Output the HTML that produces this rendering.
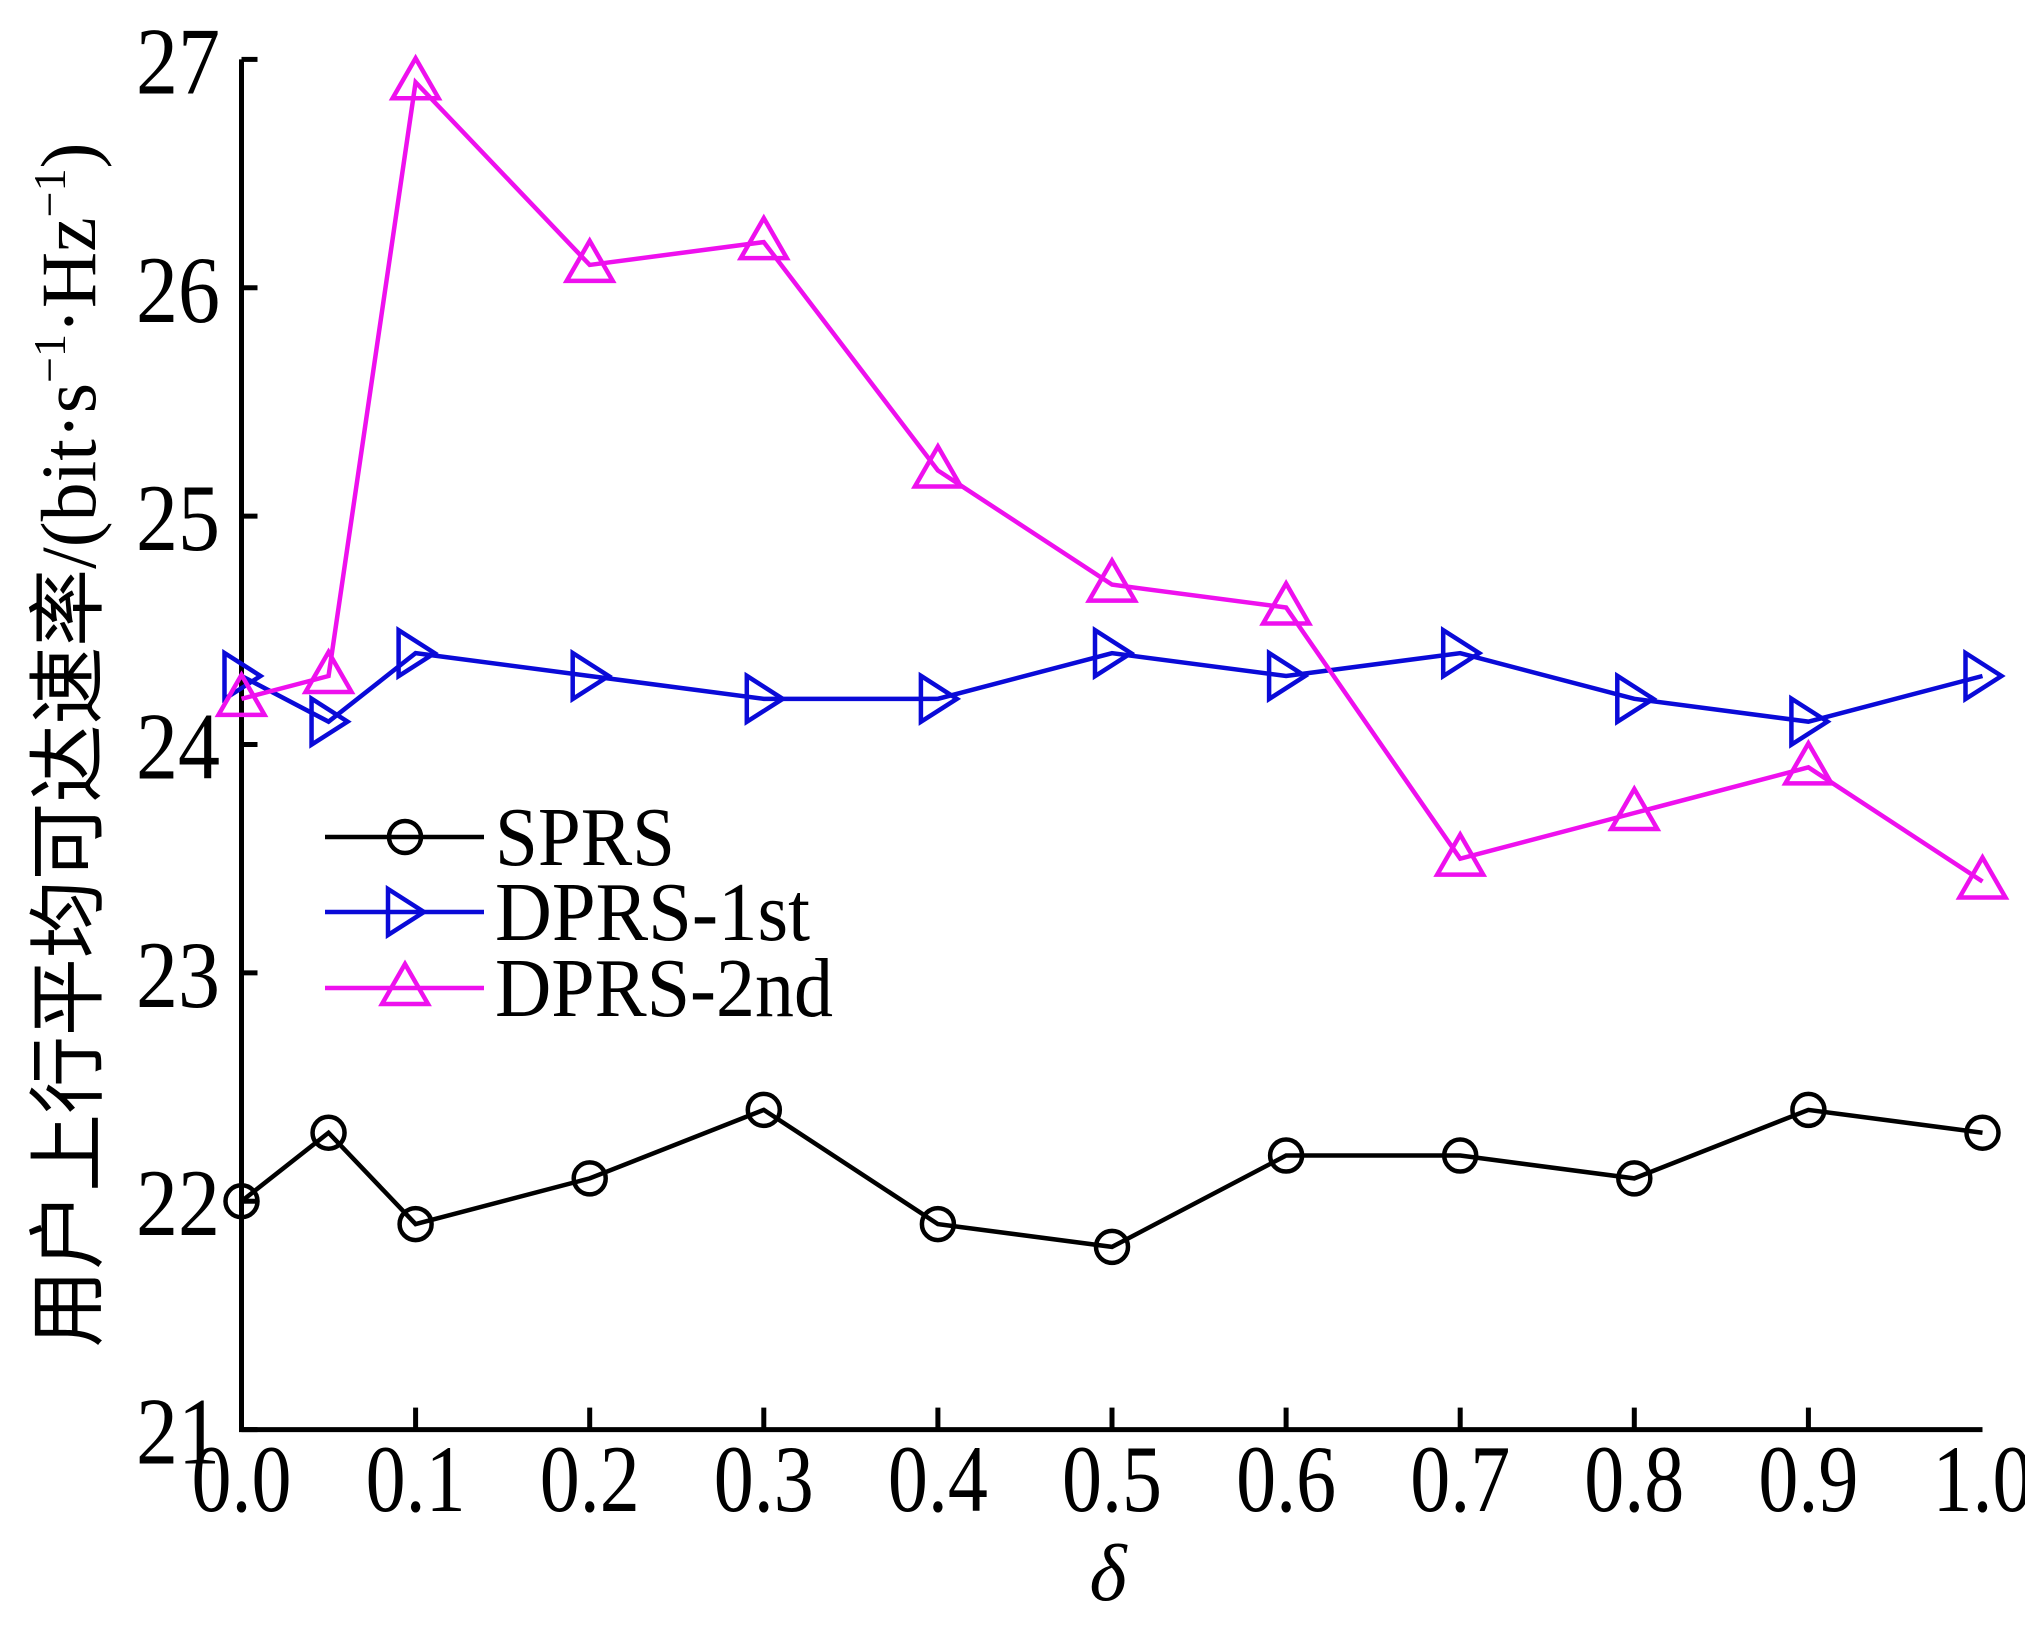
<!DOCTYPE html>
<html><head><meta charset="utf-8"><style>
html,body{margin:0;padding:0;background:#fff;}
svg{display:block;}
</style></head><body>
<svg id="chart" width="2025" height="1631" viewBox="0 0 2025 1631" xmlns="http://www.w3.org/2000/svg" font-family="'Liberation Serif','Noto Serif CJK SC',serif">
<g id="axes"></g>
<g id="series"></g>
<g id="legend"></g>
<text transform="translate(95,745) rotate(-90)" text-anchor="middle" font-size="78" textLength="1205" lengthAdjust="spacingAndGlyphs" font-family="'Liberation Serif','Noto Sans CJK SC',serif">用户上行平均可达速率/(bit·s<tspan font-size="46" dy="-30">−1</tspan><tspan dy="30">·Hz</tspan><tspan font-size="46" dy="-30">−1</tspan><tspan dy="30">)</tspan></text>
<text x="1108" y="1600" text-anchor="middle" font-size="80" font-style="italic">δ</text>
</svg>
<script>
const xValues = [0, 0.05, 0.1, 0.2, 0.3, 0.4, 0.5, 0.6, 0.7, 0.8, 0.9, 1.0];
const sprs = [22.0, 22.3, 21.9, 22.1, 22.4, 21.9, 21.8, 22.2, 22.2, 22.1, 22.4, 22.3];
const dprs1st = [24.3, 24.1, 24.4, 24.3, 24.2, 24.2, 24.4, 24.3, 24.4, 24.2, 24.1, 24.3];
const dprs2nd = [24.2, 24.3, 26.9, 26.1, 26.2, 25.2, 24.7, 24.6, 23.5, 23.7, 23.9, 23.4];
const xTicks = [0, 0.1, 0.2, 0.3, 0.4, 0.5, 0.6, 0.7, 0.8, 0.9, 1.0];
const xTickLabels = ["0.0","0.1","0.2","0.3","0.4","0.5","0.6","0.7","0.8","0.9","1.0"];
const yTicks = [21, 22, 23, 24, 25, 26, 27];
const seriesNames = ["SPRS", "DPRS-1st", "DPRS-2nd"];

const NS = "http://www.w3.org/2000/svg";
const X0 = 241.5, X1 = 1982.5, Y0 = 1429.6, Y1 = 59.4;
function sx(v){ return X0 + (v - 0) / (1 - 0) * (X1 - X0); }
function sy(v){ return Y0 - (v - 21) / (27 - 21) * (Y0 - Y1); }
function mk(tag, attrs, parent){ const e = document.createElementNS(NS, tag); for (const k in attrs) e.setAttribute(k, attrs[k]); parent.appendChild(e); return e; }

const axes = document.getElementById('axes');
let el = mk('path', {d:`M${X0},${Y1} L${X0},${Y0} L${X1},${Y0}`, fill:'none', stroke:'#000', 'stroke-width':5}, axes);


yTicks.forEach(v => {
  const y = sy(v);
  const t = mk('line', {x1:X0, x2:X0+16, y1:y, y2:y, stroke:'#000', 'stroke-width':5}, axes);
  
  
  const l = mk('text', {x:136, y:y+34, 'font-size':95, textLength:84, lengthAdjust:'spacingAndGlyphs'}, axes);
  l.textContent = String(v);
  
  
});
xTicks.forEach((v, i) => {
  const x = sx(v);
  if (i > 0 && i < xTicks.length - 1) {
    const t = mk('line', {x1:x, x2:x, y1:Y0, y2:Y0-22, stroke:'#000', 'stroke-width':5}, axes);
    
    
  }
  const l = mk('text', {x:x-50, y:1511, 'font-size':95, textLength:100, lengthAdjust:'spacingAndGlyphs'}, axes);
  l.textContent = xTickLabels[i];
  
  
});

function marker(type, x, y, color, parent){
  let m;
  if (type === 'circle') m = mk('circle', {cx:x, cy:y, r:16, fill:'none', stroke:color, 'stroke-width':4.5}, parent);
  else if (type === 'right') m = mk('path', {d:`M${x-17},${y-23} L${x+19},${y} L${x-17},${y+23} Z`, fill:'none', stroke:color, 'stroke-width':4.5}, parent);
  else m = mk('path', {d:`M${x},${y-24} L${x+23},${y+16} L${x-23},${y+16} Z`, fill:'none', stroke:color, 'stroke-width':4.5}, parent);
  return m;
}
const seriesVals = [sprs, dprs1st, dprs2nd];
const colors = ['#000000', '#0a0ad8', '#ee10ee'];
const markers = ['circle', 'right', 'up'];
const sg = document.getElementById('series');
seriesVals.forEach((vals, si) => {
  const g = mk('g', {}, sg);
  
  
  const pts = vals.map((v, i) => `${sx(xValues[i])},${sy(v)}`).join(' ');
  const pl = mk('polyline', {points:pts, fill:'none', stroke:colors[si], 'stroke-width':4.5}, g);
  
  
  vals.forEach((v, i) => {
    const m = marker(markers[si], sx(xValues[i]), sy(v), colors[si], g);
    
    
  });
});

const lg = document.getElementById('legend');
const legendY = [837, 912, 988];
const legendLen = [180, 315, 338];
seriesNames.forEach((n, si) => {
  const g = mk('g', {}, lg);
  
  
  mk('line', {x1:325, x2:484, y1:legendY[si], y2:legendY[si], stroke:colors[si], 'stroke-width':4.5}, g);
  marker(markers[si], 405, legendY[si], colors[si], g);
  const t = mk('text', {x:495, y:legendY[si]+28, 'font-size':84, textLength:legendLen[si], lengthAdjust:'spacingAndGlyphs'}, g);
  t.textContent = n;
});
</script>
</body></html>
